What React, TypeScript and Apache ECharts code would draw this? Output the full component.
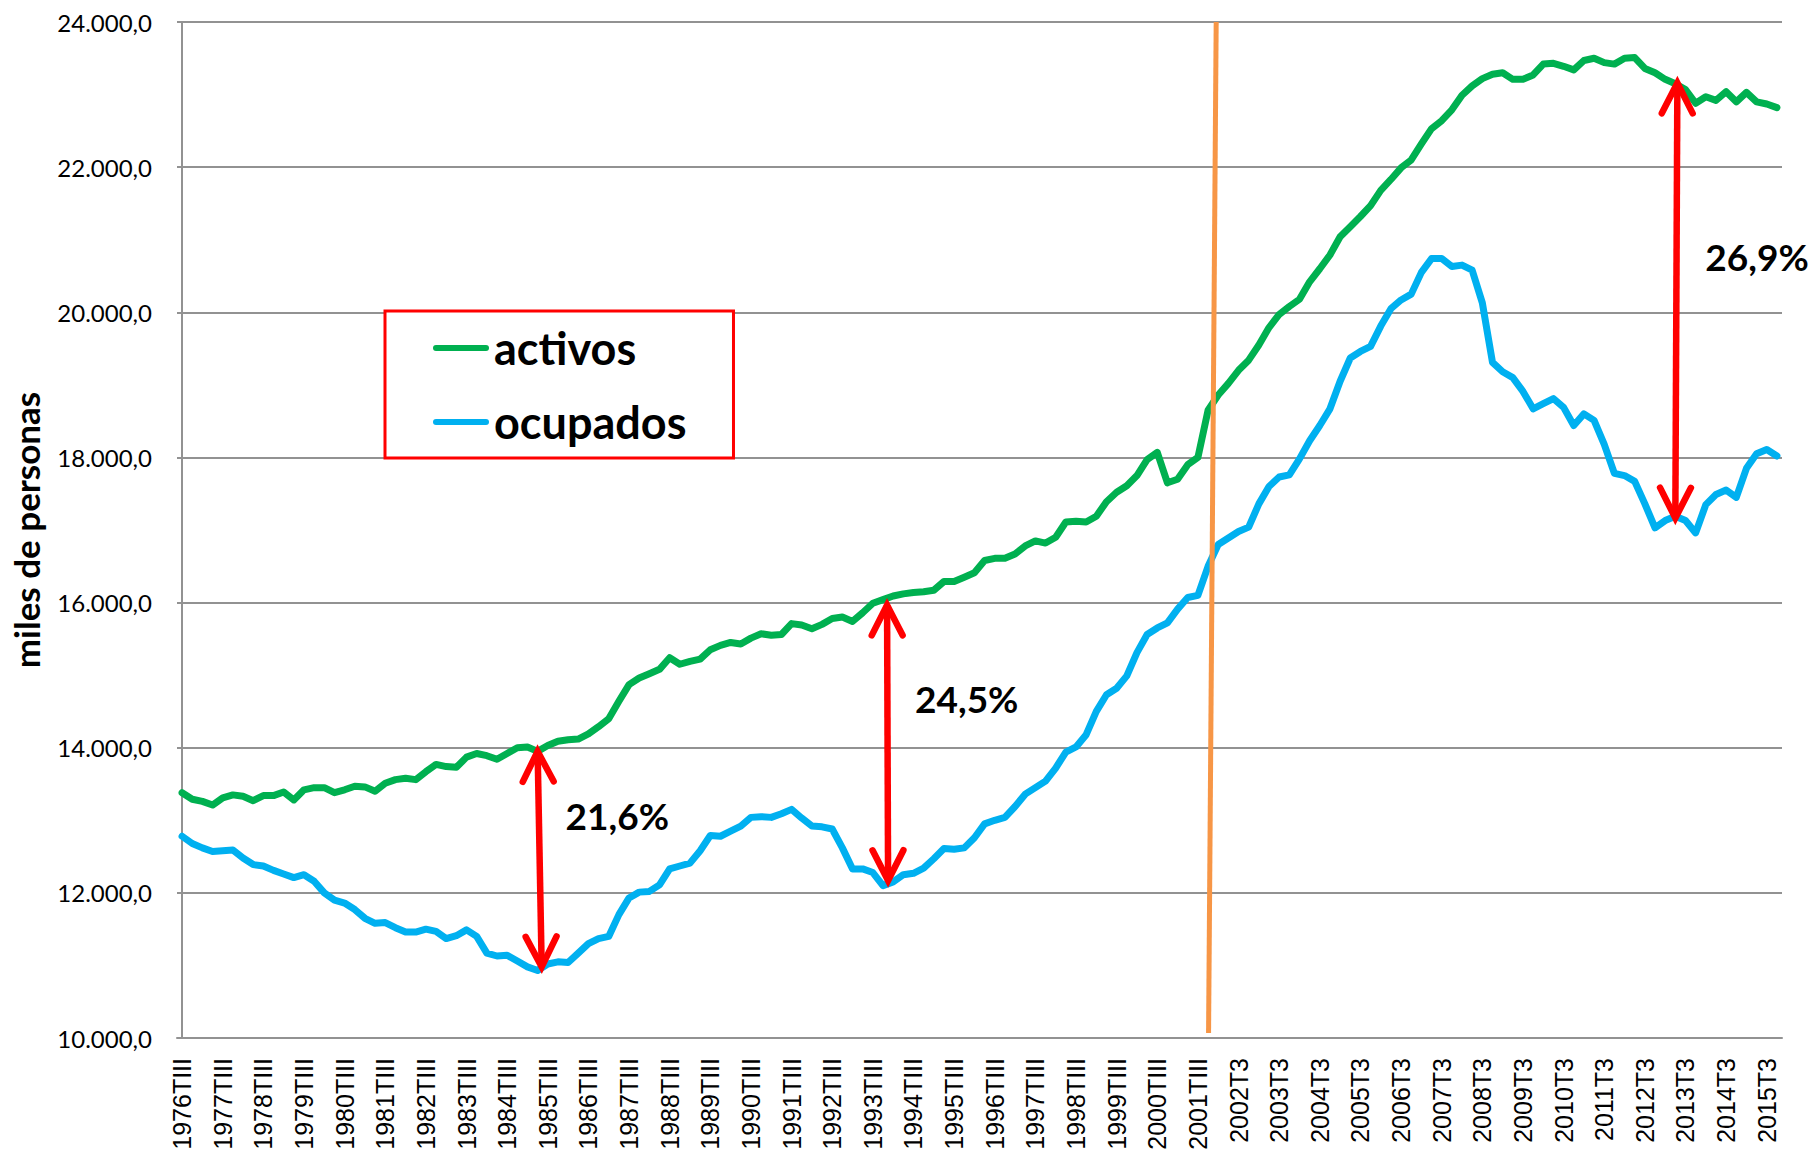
import React, { useEffect, useRef } from "react";
import * as echarts from "echarts";

// ---- categories: quarters 1976 T3 .. 2015 T4 ----
const romanQuarter = ["I", "II", "III", "IV"];
const firstYear = 1976;
const lastYear = 2015;
const quarters: string[] = [];
for (let y = firstYear; y <= lastYear; y++) {
  for (let q = 1; q <= 4; q++) {
    if (y === firstYear && q < 3) continue;
    quarters.push(y <= 2001 ? `${y}T${romanQuarter[q - 1]}` : `${y}T${q}`);
  }
}

// ---- y axis ticks ----
const yMin = 10000;
const yMax = 24000;
const yStep = 2000;

// ---- series values (miles de personas) ----
const activos = [
  13380, 13290, 13260, 13210, 13310, 13350, 13330, 13270, 13340, 13340,
  13390, 13280, 13420, 13450, 13450, 13380, 13420, 13470, 13460, 13400,
  13510, 13560, 13580, 13560, 13670, 13770, 13740, 13730, 13870, 13920,
  13890, 13840, 13920, 14000, 14010, 13950, 14030, 14090, 14110, 14120,
  14190, 14290, 14400, 14640, 14870, 14960, 15020, 15080, 15240, 15150,
  15190, 15220, 15350, 15410, 15450, 15430, 15510, 15570, 15550, 15560,
  15710, 15690, 15640, 15700, 15780, 15800, 15740, 15860, 15990, 16040,
  16090, 16120, 16140, 16150, 16170, 16290, 16290, 16350, 16410, 16580,
  16610, 16610, 16670, 16780, 16850, 16820, 16900, 17110, 17120, 17110,
  17190, 17390, 17520, 17610, 17750, 17970, 18070, 17650, 17700, 17900,
  18000, 18650, 18860, 19020, 19200, 19340, 19550, 19790, 19970, 20080,
  20180, 20420, 20600, 20790, 21040, 21180, 21320, 21470, 21680, 21830,
  21990, 22100, 22320, 22530, 22640, 22790, 22990, 23120, 23220, 23280,
  23300, 23210, 23210, 23270, 23420, 23430, 23390, 23340, 23470, 23500,
  23440, 23420, 23500, 23510, 23360, 23300, 23210, 23150, 23070, 22880,
  22970, 22920, 23040, 22900, 23030, 22900, 22870, 22820,
];

const ocupados = [
  12780, 12680, 12620, 12570, 12580, 12590, 12480, 12390, 12370, 12310,
  12260, 12210, 12250, 12160, 12000, 11900, 11860, 11770, 11650, 11580,
  11590, 11520, 11460, 11460, 11500, 11470, 11370, 11410, 11490, 11400,
  11170, 11130, 11140, 11060, 10980, 10930, 11020, 11050, 11040, 11170,
  11300, 11370, 11400, 11700, 11930, 12010, 12020, 12110, 12330, 12370,
  12410, 12580, 12790, 12780, 12850, 12920, 13040, 13050, 13040, 13090,
  13150, 13030, 12920, 12910, 12880, 12620, 12330, 12330, 12280, 12100,
  12150, 12250, 12270, 12340, 12470, 12610, 12600, 12620, 12760, 12950,
  13000, 13040, 13190, 13360, 13450, 13540, 13720, 13940, 14010, 14180,
  14500, 14730, 14820, 14990, 15310, 15560, 15650, 15720, 15910, 16070,
  16100, 16500, 16800, 16890, 16980, 17040, 17360, 17600, 17730, 17760,
  17980, 18230, 18440, 18670, 19050, 19370, 19460, 19530, 19810, 20050,
  20170, 20250, 20550, 20740, 20740, 20630, 20650, 20580, 20130, 19310,
  19180, 19100, 18910, 18670, 18740, 18810, 18690, 18440, 18600, 18510,
  18180, 17780, 17750, 17670, 17360, 17030, 17130, 17190, 17130, 16960,
  17350, 17490, 17550, 17450, 17850, 18050, 18110, 18020,
];

// ---- annotations (x in quarter index, y in miles de personas) ----
const gapArrows = [
  { label: "21,6%", xTop: 35.0, top: 13950, xBottom: 35.4, bottom: 10980 },
  { label: "24,5%", xTop: 69.4, top: 15966, xBottom: 69.5, bottom: 12170 },
  { label: "26,9%", xTop: 147.2, top: 23159, xBottom: 147.0, bottom: 17165 },
];
const seriesBreak = [{ xBottom: 101.05, yBottom: 10070, xTop: 101.8, yTop: 24000 }];

const GREEN = "#00B050";
const BLUE = "#00B0F0";
const RED = "#FF0000";
const ORANGE = "#F79646";
const GRID = "#929292";

function fmtEs(v: number): string {
  const s = Math.round(v).toString().replace(/\B(?=(\d{3})+(?!\d))/g, ".");
  return s + ",0";
}

function chevron(tip: number[], from: number[]): number[][] {
  const L = 34;
  const ang = (27 * Math.PI) / 180;
  const dx = from[0] - tip[0];
  const dy = from[1] - tip[1];
  const len = Math.sqrt(dx * dx + dy * dy) || 1;
  const ux = dx / len;
  const uy = dy / len;
  const nx = -uy;
  const ny = ux;
  const c = Math.cos(ang) * L;
  const s = Math.sin(ang) * L;
  return [
    [tip[0] + ux * c + nx * s, tip[1] + uy * c + ny * s],
    [tip[0], tip[1]],
    [tip[0] + ux * c - nx * s, tip[1] + uy * c - ny * s],
  ];
}

const capsule = "path://M3,0 L53,0 A3,3 0 0 1 53,6 L3,6 A3,3 0 0 1 3,0 Z";

export default function App() {
  const ref = useRef<HTMLDivElement>(null);

  useEffect(() => {
    document.body.style.margin = "0";
    document.body.style.overflow = "hidden";
    if (!ref.current) return;
    const chart = echarts.init(ref.current, undefined, { renderer: "svg" });

    const option: any = {
      animation: false,
      backgroundColor: "#ffffff",
      grid: { left: 174, top: 22, width: 1608, height: 1016, containLabel: false },
      legend: {
        data: ["activos", "ocupados"],
        orient: "vertical",
        left: 385,
        top: 311,
        padding: [13, 47, 12, 48],
        itemGap: 26,
        itemWidth: 56,
        itemHeight: 6,
        icon: capsule,
        borderColor: RED,
        borderWidth: 3,
        backgroundColor: "#ffffff",
        selectedMode: false,
        textStyle: {
          fontSize: 45,
          fontWeight: "bold",
          fontFamily: "Lato",
          color: "#000",
          lineHeight: 48,
        },
      },
      xAxis: [
        {
          type: "category",
          data: quarters,
          boundaryGap: true,
          axisLine: { show: true, lineStyle: { color: GRID, width: 2 } },
          axisTick: { show: false },
          splitLine: { show: false },
          axisLabel: {
            interval: 3,
            rotate: 90,
            margin: 20,
            fontSize: 25,
            fontFamily: "Liberation Sans",
            color: "#000",
          },
        },
        {
          type: "value",
          min: -0.5,
          max: quarters.length - 0.5,
          show: false,
        },
      ],
      yAxis: {
        type: "value",
        min: yMin,
        max: yMax,
        interval: yStep,
        name: "miles de personas",
        nameLocation: "middle",
        nameGap: 134,
        nameTextStyle: {
          fontSize: 35,
          fontWeight: "bold",
          fontFamily: "Lato",
          color: "#000",
        },
        axisLine: { show: true, lineStyle: { color: GRID, width: 2 } },
        axisTick: { show: false },
        splitLine: { show: true, lineStyle: { color: GRID, width: 2 } },
        axisLabel: {
          margin: 25,
          fontSize: 24,
          fontFamily: "Lato",
          color: "#000",
          formatter: (v: number) => fmtEs(v),
        },
      },
      series: [
        {
          name: "activos",
          type: "line",
          data: activos,
          showSymbol: false,
          symbol: "none",
          color: GREEN,
          lineStyle: { color: GREEN, width: 7, cap: "round", join: "round" },
          z: 3,
        },
        {
          name: "ocupados",
          type: "line",
          data: ocupados,
          showSymbol: false,
          symbol: "none",
          color: BLUE,
          lineStyle: { color: BLUE, width: 7, cap: "round", join: "round" },
          z: 3,
        },
        {
          name: "ruptura",
          type: "custom",
          xAxisIndex: 1,
          yAxisIndex: 0,
          z: 5,
          silent: true,
          data: seriesBreak.map((b) => [b.xBottom, b.yBottom, b.xTop, b.yTop]),
          renderItem: (params: any, api: any) => {
            const p1 = api.coord([api.value(0), api.value(1)]);
            const p2 = api.coord([api.value(2), api.value(3)]);
            return {
              type: "line",
              shape: { x1: p1[0], y1: p1[1], x2: p2[0], y2: p2[1] },
              style: { stroke: ORANGE, lineWidth: 5, fill: "none" },
            };
          },
        },
        {
          name: "brecha",
          type: "custom",
          xAxisIndex: 1,
          yAxisIndex: 0,
          z: 6,
          silent: true,
          data: gapArrows.map((a) => [a.xTop, a.top, a.xBottom, a.bottom]),
          renderItem: (params: any, api: any) => {
            const a = gapArrows[params.dataIndex];
            const p1 = api.coord([api.value(0), api.value(1)]);
            const p2 = api.coord([api.value(2), api.value(3)]);
            const st = {
              stroke: RED,
              lineWidth: 6.5,
              fill: "none",
              lineCap: "round",
              lineJoin: "miter",
            };
            return {
              type: "group",
              children: [
                {
                  type: "line",
                  shape: { x1: p1[0], y1: p1[1], x2: p2[0], y2: p2[1] },
                  style: { stroke: RED, lineWidth: 6.5, fill: "none" },
                },
                { type: "polyline", shape: { points: chevron(p1, p2) }, style: st },
                { type: "polyline", shape: { points: chevron(p2, p1) }, style: st },
                {
                  type: "text",
                  x: p1[0] + 28,
                  y: (p1[1] + p2[1]) / 2 - 44,
                  style: {
                    text: a.label,
                    fontSize: 37,
                    fontWeight: "bold",
                    fontFamily: "Lato",
                    fill: "#000",
                    align: "left",
                    verticalAlign: "middle",
                  },
                },
              ],
            };
          },
        },
      ],
    };

    chart.setOption(option);
    return () => {
      chart.dispose();
    };
  }, []);

  return <div ref={ref} style={{ width: 1813, height: 1153 }} />;
}
